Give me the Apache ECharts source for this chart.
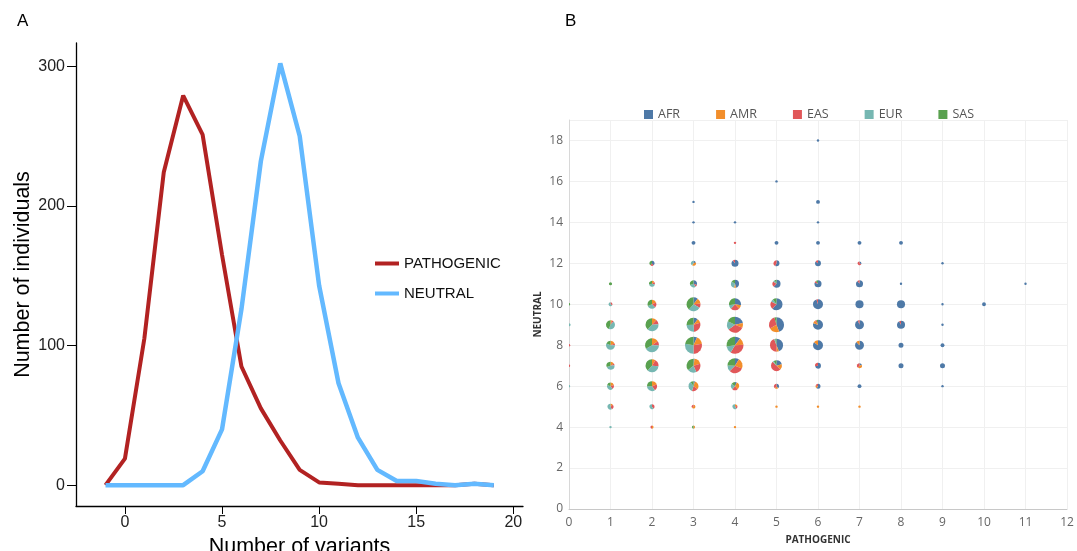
<!DOCTYPE html>
<html>
<head>
<meta charset="utf-8">
<script src="https://cdn.jsdelivr.net/npm/echarts@6/dist/echarts.min.js"></script>
<style>
  html, body { margin: 0; padding: 0; background: #fff; }
  #main { width: 1077px; height: 551px; }
</style>
</head>
<body>
<div id="main"></div>
<script>
// Panel A: distribution of variant counts
const variants = [-1, 0, 1, 2, 3, 4, 5, 6, 7, 8, 9, 10, 11, 12, 13, 14, 15, 16, 17, 18, 19]
const pathogenic = [0, 19, 105, 224, 279, 251, 165, 85, 55, 32, 11, 2, 1, 0, 0, 0, 0, 0, 0, 1, 0]
const neutral = [0, 0, 0, 0, 0, 10, 40, 126, 232, 302, 250, 143, 73, 34, 11, 3, 3, 1, 0, 1, 0]
const lineTicksX = [0, 5, 10, 15, 20]
const lineTicksY = [0, 100, 200, 300]

// Panel B: pathogenic vs neutral counts, split by population
const populations = ['AFR', 'AMR', 'EAS', 'EUR', 'SAS']
const cellX = [
  0, 0, 0, 0, 0,
  1, 1, 1, 1, 1, 1, 1, 1,
  2, 2, 2, 2, 2, 2, 2, 2, 2,
  3, 3, 3, 3, 3, 3, 3, 3, 3, 3, 3, 3,
  4, 4, 4, 4, 4, 4, 4, 4, 4, 4, 4,
  5, 5, 5, 5, 5, 5, 5, 5, 5, 5,
  6, 6, 6, 6, 6, 6, 6, 6, 6, 6, 6, 6,
  7, 7, 7, 7, 7, 7, 7, 7, 7,
  8, 8, 8, 8, 8, 8,
  9, 9, 9, 9, 9, 9,
  10, 11
]
const cellY = [
  6, 7, 8, 9, 10,
  4, 5, 6, 7, 8, 9, 10, 11,
  4, 5, 6, 7, 8, 9, 10, 11, 12,
  4, 5, 6, 7, 8, 9, 10, 11, 12, 13, 14, 15,
  4, 5, 6, 7, 8, 9, 10, 11, 12, 13, 14,
  5, 6, 7, 8, 9, 10, 11, 12, 13, 16,
  5, 6, 7, 8, 9, 10, 11, 12, 13, 14, 15, 18,
  5, 6, 7, 8, 9, 10, 11, 12, 13,
  7, 8, 9, 10, 11, 13,
  6, 7, 8, 9, 10, 12,
  10, 11
]
const afr = [
  0, 0, 0, 0, 0,
  0, 0, 0, 0, 0, 0, 0, 0,
  0, 0, 0, 0, 0, 0, 0, 0, 2,
  0, 0, 1, 1, 4, 4, 4, 3, 1, 3, 1, 1,
  0, 0, 1, 4, 6, 11, 8, 6, 9, 0, 1,
  0, 2, 5, 15, 20, 18, 8, 4, 3, 1,
  0, 3, 5, 17, 16, 19, 8, 6, 3, 1, 3, 1,
  0, 3, 1, 14, 15, 13, 9, 1, 3,
  5, 5, 12, 13, 1, 3,
  1, 5, 3, 1, 1, 1,
  3, 1
]
const amr = [
  0, 0, 0, 0, 0,
  0, 1, 2, 2, 3, 1, 0, 0,
  1, 0, 4, 3, 6, 4, 3, 1, 0,
  1, 2, 6, 7, 9, 4, 5, 0, 2, 0, 0, 0,
  1, 1, 4, 10, 8, 5, 3, 1, 0, 0, 0,
  1, 1, 4, 2, 10, 0, 0, 0, 0, 0,
  1, 1, 0, 3, 2, 0, 0, 0, 0, 0, 0, 0,
  1, 0, 2, 2, 0, 0, 0, 0, 0,
  0, 0, 0, 0, 0, 0,
  0, 0, 0, 0, 0, 0,
  0, 0
]
const eas = [
  0, 1, 1, 0, 0,
  0, 2, 2, 1, 1, 1, 1, 0,
  1, 2, 4, 6, 4, 4, 3, 1, 1,
  0, 1, 4, 9, 16, 11, 4, 1, 0, 0, 0, 0,
  0, 1, 3, 14, 20, 17, 7, 0, 1, 1, 0,
  0, 2, 12, 15, 13, 6, 3, 3, 0, 0,
  0, 1, 2, 0, 1, 1, 1, 1, 0, 0, 0, 0,
  0, 0, 2, 0, 1, 0, 1, 2, 0,
  0, 0, 1, 0, 0, 0,
  0, 0, 0, 0, 0, 0,
  0, 0
]
const eur = [
  1, 0, 0, 1, 0,
  1, 4, 4, 6, 9, 7, 2, 0,
  0, 3, 7, 12, 16, 13, 5, 3, 0,
  0, 0, 7, 8, 16, 10, 11, 3, 2, 0, 0, 0,
  0, 3, 3, 6, 8, 9, 3, 4, 0, 0, 0,
  0, 0, 1, 1, 0, 2, 1, 0, 0, 0,
  0, 0, 0, 0, 0, 0, 0, 0, 0, 0, 0, 0,
  0, 0, 0, 0, 0, 0, 0, 0, 0,
  0, 0, 0, 0, 0, 0,
  0, 0, 0, 0, 0, 0,
  0, 0
]
const sas = [
  0, 0, 0, 1, 1,
  0, 0, 2, 4, 3, 7, 0, 2,
  0, 0, 5, 13, 13, 13, 5, 2, 2,
  1, 0, 2, 14, 13, 10, 15, 3, 0, 0, 0, 0,
  0, 0, 2, 11, 16, 9, 8, 2, 0, 0, 0,
  0, 0, 2, 1, 2, 3, 1, 0, 0, 0,
  0, 0, 0, 0, 1, 0, 1, 0, 0, 0, 0, 0,
  0, 0, 0, 0, 0, 0, 0, 0, 0,
  0, 0, 0, 0, 0, 0,
  0, 0, 0, 0, 0, 0,
  0, 0
]

const popColors = ['#4e79a7', '#f28e2b', '#e15759', '#76b7b2', '#59a14f']

const myChart = echarts.init(document.getElementById('main'))

const pieCells = cellX.map((x, i) => [x, cellY[i], afr[i], amr[i], eas[i], eur[i], sas[i]])

// draw one small pie per cell, slices clockwise from 12 o'clock
function renderPie(params, api) {
  const c = api.coord([api.value(0), api.value(1)])
  const counts = [api.value(2), api.value(3), api.value(4), api.value(5), api.value(6)]
  const total = counts.reduce((a, b) => a + b, 0)
  const r = Math.max(1.2, 1.12 * Math.sqrt(total))
  const children = []
  let start = -Math.PI / 2
  counts.forEach((v, k) => {
    if (!v) return
    const end = start + (v / total) * Math.PI * 2
    children.push({
      type: 'sector',
      shape: { cx: c[0], cy: c[1], r: r, r0: 0, startAngle: start, endAngle: end, clockwise: true },
      style: { fill: popColors[k] }
    })
    start = end
  })
  return { type: 'group', children: children }
}

const bFont = '"Open Sans", sans-serif'
const aFont = '"Liberation Sans", Arial, sans-serif'

const option = {
  animation: false,
  backgroundColor: '#fff',
  title: [
    { text: 'A', left: 12, top: 8, textStyle: { fontFamily: aFont, fontSize: 17, fontWeight: 'normal', color: '#000' } },
    { text: 'B', left: 560, top: 8, textStyle: { fontFamily: aFont, fontSize: 17, fontWeight: 'normal', color: '#000' } }
  ],
  legend: [
    {
      data: ['PATHOGENIC', 'NEUTRAL'],
      orient: 'vertical',
      left: 375,
      top: 256,
      padding: 0,
      itemWidth: 24,
      itemHeight: 4,
      itemGap: 15,
      icon: 'rect',
      textStyle: { fontFamily: aFont, fontSize: 15, color: '#111' }
    },
    {
      data: populations,
      left: 644,
      top: 108,
      padding: 0,
      itemWidth: 9,
      itemHeight: 9,
      itemGap: 36,
      icon: 'rect',
      textStyle: { fontFamily: bFont, fontSize: 12.5, color: '#555' }
    }
  ],
  grid: [
    { left: 76, top: 43, right: 554, bottom: 45, outerBoundsMode: 'none' },
    { left: 569, top: 120, right: 10, bottom: 42, outerBoundsMode: 'none' }
  ],
  xAxis: [
    {
      gridIndex: 0,
      type: 'value',
      min: -2.52,
      max: 20.5,
      name: 'Number of variants',
      nameLocation: 'middle',
      nameGap: 24,
      nameTextStyle: { fontFamily: aFont, fontSize: 21.5, color: '#000' },
      axisLine: { onZero: false, lineStyle: { color: '#000', width: 1.3 } },
      axisTick: { customValues: lineTicksX, length: 8, lineStyle: { color: '#000' } },
      axisLabel: { customValues: lineTicksX, fontFamily: aFont, fontSize: 16, color: '#222', margin: 9 },
      splitLine: { show: false }
    },
    {
      gridIndex: 1,
      type: 'value',
      min: 0,
      max: 12,
      interval: 1,
      name: 'PATHOGENIC',
      nameLocation: 'middle',
      nameGap: 26,
      nameTextStyle: { fontFamily: bFont, fontSize: 10, fontWeight: 'bold', color: '#333' },
      axisLine: { lineStyle: { color: '#c8c8c8' } },
      axisTick: { show: false },
      axisLabel: { fontFamily: bFont, fontSize: 12, color: '#666', margin: 8 },
      splitLine: { lineStyle: { color: '#f0f0f0' } }
    }
  ],
  yAxis: [
    {
      gridIndex: 0,
      type: 'value',
      min: -14.9,
      max: 316.6,
      name: 'Number of individuals',
      nameLocation: 'middle',
      nameGap: 38,
      nameTextStyle: { fontFamily: aFont, fontSize: 21.5, color: '#000' },
      axisLine: { show: true, onZero: false, lineStyle: { color: '#000', width: 1.3 } },
      axisTick: { show: true, customValues: lineTicksY, length: 9, lineStyle: { color: '#000' } },
      axisLabel: { customValues: lineTicksY, fontFamily: aFont, fontSize: 16, color: '#222', margin: 11 },
      splitLine: { show: false }
    },
    {
      gridIndex: 1,
      type: 'value',
      min: 0,
      max: 19,
      interval: 2,
      name: 'NEUTRAL',
      nameLocation: 'middle',
      nameGap: 26,
      nameTextStyle: { fontFamily: bFont, fontSize: 10, fontWeight: 'bold', color: '#333' },
      axisLine: { show: true, lineStyle: { color: '#d8d8d8' } },
      axisTick: { show: false },
      axisLabel: { fontFamily: bFont, fontSize: 12, color: '#666', margin: 6, showMaxLabel: false },
      splitLine: { lineStyle: { color: '#f0f0f0' } }
    }
  ],
  series: [
    {
      name: 'PATHOGENIC',
      type: 'line',
      xAxisIndex: 0,
      yAxisIndex: 0,
      data: variants.map((v, i) => [v, pathogenic[i]]),
      symbol: 'none',
      color: '#b22222',
      lineStyle: { width: 4, color: '#b22222' }
    },
    {
      name: 'NEUTRAL',
      type: 'line',
      xAxisIndex: 0,
      yAxisIndex: 0,
      data: variants.map((v, i) => [v, neutral[i]]),
      symbol: 'none',
      color: '#63b9ff',
      lineStyle: { width: 4.5, color: '#63b9ff' }
    },
    {
      type: 'custom',
      xAxisIndex: 1,
      yAxisIndex: 1,
      clip: true,
      renderItem: renderPie,
      encode: { x: 0, y: 1 },
      data: pieCells
    },
    // empty series so the population legend has entries
    ...populations.map((p, k) => ({
      name: p,
      type: 'scatter',
      xAxisIndex: 1,
      yAxisIndex: 1,
      color: popColors[k],
      itemStyle: { opacity: 1 },
      data: []
    }))
  ]
}

myChart.setOption(option)
</script>
</body>
</html>
